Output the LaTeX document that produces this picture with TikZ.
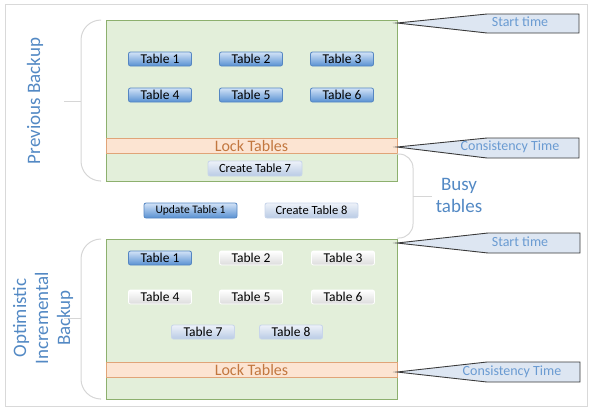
\documentclass[tikz,border=0pt]{standalone}
\usepackage{fontspec}
\setmainfont{Carlito}
\usetikzlibrary{shadings}
\definecolor{grnfill}{HTML}{E3EFDA}
\definecolor{grnline}{HTML}{8DB06E}
\definecolor{lockfill}{HTML}{FCE4D2}
\definecolor{lockline}{HTML}{E0A478}
\definecolor{locktext}{HTML}{C2773F}
\definecolor{lbl}{HTML}{5389C4}
\definecolor{calltext}{HTML}{6A9BD2}
\definecolor{callfill}{HTML}{DDE6F2}
\definecolor{callline}{HTML}{3A3A3A}
\definecolor{bracec}{HTML}{D6D6D6}
\definecolor{framec}{HTML}{D9D9D9}
\definecolor{bluetop}{HTML}{D2E3F7}
\definecolor{bluemid}{HTML}{94BBE8}
\definecolor{bluebot}{HTML}{5890D2}
\definecolor{blueline}{HTML}{5586C2}
\definecolor{lighttop}{HTML}{EEF2F9}
\definecolor{lightbot}{HTML}{B9CBE5}
\definecolor{lightline}{HTML}{C8D5EA}
\definecolor{whitebot}{HTML}{DCDCDC}
\begin{document}
\begin{tikzpicture}[x=1pt,y=-1pt,
  btn/.style={rounded corners=2pt, minimum width=63pt, minimum height=14pt, inner sep=0pt, font=\fontsize{13.5}{14}\selectfont},
  bluebtn/.style={btn, draw=blueline, line width=0.8pt, top color=bluetop, middle color=bluemid, bottom color=bluebot},
  lightbtn/.style={btn, draw=lightline, line width=0.8pt, top color=lighttop, bottom color=lightbot},
  whitebtn/.style={btn, draw=white, line width=0.8pt, top color=white, middle color=white, bottom color=whitebot},
  greenbox/.style={draw=grnline, fill=grnfill, line width=0.8pt, minimum width=291pt, inner sep=0pt},
  lockband/.style={draw=lockline, fill=lockfill, line width=0.8pt, minimum width=291pt, minimum height=15pt, inner sep=0pt, text=locktext, font=\fontsize{16}{16}\selectfont},
  bracket/.style={draw=bracec, line width=1pt},
  callout/.style={draw=callline, fill=callfill, line width=0.9pt, line join=miter},
  calltxt/.style={text=calltext, font=\fontsize{14}{14}\selectfont, inner sep=0pt},
  biglbl/.style={text=lbl, font=\fontsize{19}{22}\selectfont, inner sep=0pt, align=center}
]
\useasboundingbox (0,0) rectangle (594,416);
\draw[framec, line width=0.8pt] (5,4) rectangle (587,406);

% green boxes
\node[greenbox, minimum height=161pt] (topbox) at (251.5,100.5) {};
\node[lockband] (lock1) at (251.5,145.5) {Lock Tables};
\node[greenbox, minimum height=160pt] (botbox) at (251.5,319) {};
\node[lockband] (lock2) at (251.5,369.5) {Lock Tables};

% brackets
\draw[bracket, rounded corners=20pt] (100,20) -- (81,20) -- (81,181) -- (100,181);
\draw[bracket] (81,101) -- (64,101);
\draw[bracket, rounded corners=20pt] (100,239) -- (81,239) -- (81,399) -- (100,399);
\draw[bracket] (81,318) -- (64,318);
\draw[bracket, rounded corners=14pt] (397,154) -- (413,154) -- (413,238) -- (397,238);
\draw[bracket] (413,196) -- (432,196);

% labels
\node[biglbl, rotate=90] (prev) at (35,101) {Previous Backup};
\node[biglbl, rotate=90] (opt) at (43,318) {Optimistic\\Incremental\\Backup};
\node[biglbl] (busy) at (459,195) {Busy\\tables};

% top tables
\node[bluebtn] (t1) at (160,59) {Table 1};
\node[bluebtn] (t2) at (251,59) {Table 2};
\node[bluebtn] (t3) at (342,59) {Table 3};
\node[bluebtn] (t4) at (160,95) {Table 4};
\node[bluebtn] (t5) at (251,95) {Table 5};
\node[bluebtn] (t6) at (342,95) {Table 6};
\node[lightbtn, minimum width=94pt, minimum height=15pt, font=\fontsize{12.5}{13}\selectfont] (c7) at (255,168.5) {Create Table 7};

% busy tables
\node[bluebtn, minimum width=93pt, minimum height=15pt, font=\fontsize{11.5}{12}\selectfont] (u1) at (190.5,210.5) {Update Table 1};
\node[lightbtn, minimum width=93pt, minimum height=15pt, font=\fontsize{12.5}{13}\selectfont] (c8) at (311.5,210.5) {Create Table 8};

% bottom tables
\node[bluebtn] (b1) at (160,258) {Table 1};
\node[whitebtn] (b2) at (251,258) {Table 2};
\node[whitebtn] (b3) at (343,258) {Table 3};
\node[whitebtn] (b4) at (160,297) {Table 4};
\node[whitebtn] (b5) at (251,297) {Table 5};
\node[whitebtn] (b6) at (343,297) {Table 6};
\node[lightbtn] (b7) at (203,332) {Table 7};
\node[lightbtn] (b8) at (291,332) {Table 8};

% callouts
\draw[callout] (397,23) -- (487,14) -- (579,14) -- (579,33) -- (487,33) -- cycle;
\node[calltxt] (st1) at (520,22) {Start time};
\draw[callout] (397,147) -- (487,138) -- (579,138) -- (579,158) -- (487,158) -- cycle;
\node[calltxt] (ct1) at (510,147) {Consistency Time};
\draw[callout] (397,243) -- (488,233) -- (580,233) -- (580,253) -- (488,253) -- cycle;
\node[calltxt] (st2) at (520,242) {Start time};
\draw[callout] (397,372) -- (487,362) -- (580,362) -- (580,382) -- (487,382) -- cycle;
\node[calltxt] (ct2) at (512,372) {Consistency Time};
\end{tikzpicture}
\end{document}
